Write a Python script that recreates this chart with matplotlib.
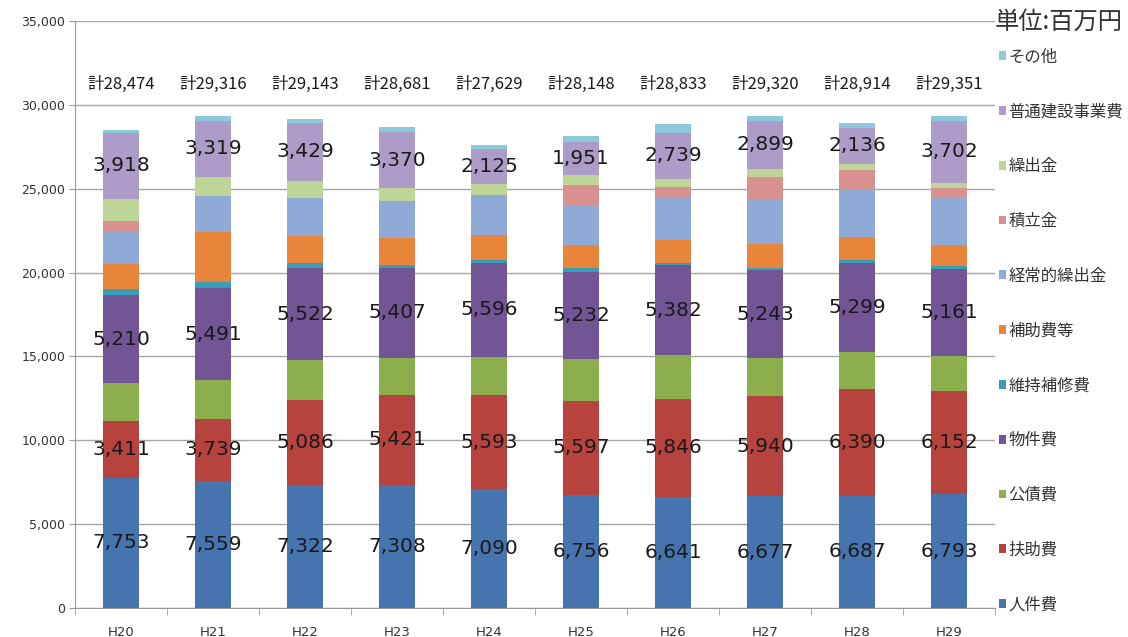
import matplotlib
matplotlib.use("Agg")
import matplotlib.pyplot as plt
from matplotlib.patches import Patch
import numpy as np

plt.rcParams["font.family"] = ["Noto Sans CJK JP", "DejaVu Sans"]

years = ["H20", "H21", "H22", "H23", "H24", "H25", "H26", "H27", "H28", "H29"]
totals = [28474, 29316, 29143, 28681, 27629, 28148, 28833, 29320, 28914, 29351]

# series, bottom to top (unit: million yen)
jinkenhi = [7753, 7559, 7322, 7308, 7090, 6756, 6641, 6677, 6687, 6793]
fujohi = [3411, 3739, 5086, 5421, 5593, 5597, 5846, 5940, 6390, 6152]
kousaihi = [2270, 2270, 2360, 2160, 2300, 2470, 2580, 2290, 2210, 2110]
bukkenhi = [5210, 5491, 5522, 5407, 5596, 5232, 5382, 5243, 5299, 5161]
ijihoshu = [400, 400, 300, 160, 200, 200, 140, 140, 155, 155]
hojohi = [1490, 2940, 1590, 1580, 1450, 1390, 1350, 1430, 1375, 1255]
keijo_kuridashi = [1970, 2190, 2250, 2250, 2370, 2390, 2530, 2650, 2810, 2870]
tsumitate = [600, 0, 0, 0, 0, 1195, 660, 1350, 1195, 560]
kuridashi = [1300, 1135, 1050, 740, 660, 600, 480, 440, 380, 300]
futsu_kensetsu = [3918, 3319, 3429, 3370, 2125, 1951, 2739, 2899, 2136, 3702]
sonota = [152, 273, 234, 285, 245, 367, 485, 261, 277, 293]

series = [
    ("人件費", jinkenhi, "#4674AE", True),
    ("扶助費", fujohi, "#B7433F", True),
    ("公債費", kousaihi, "#8DAE4D", False),
    ("物件費", bukkenhi, "#715595", True),
    ("維持補修費", ijihoshu, "#3A9DB8", False),
    ("補助費等", hojohi, "#E8853A", False),
    ("経常的繰出金", keijo_kuridashi, "#8FAAD6", False),
    ("積立金", tsumitate, "#D99190", False),
    ("繰出金", kuridashi, "#BDD597", False),
    ("普通建設事業費", futsu_kensetsu, "#AE9CC8", True),
    ("その他", sonota, "#8CC9DC", False),
]

fig = plt.figure(figsize=(11.28, 6.37), dpi=100)
ax = fig.add_axes([75 / 1128, 29 / 637, 920 / 1128, 587 / 637])

x = np.arange(len(years))
bottom = np.zeros(len(years))
handles = []
for name, vals, color, labeled in series:
    vals = np.array(vals, dtype=float)
    ax.bar(x, vals, 0.39, bottom=bottom, color=color, zorder=3)
    if labeled:
        for i, v in enumerate(vals):
            ax.text(x[i], bottom[i] + v / 2, f"{int(v):,}", ha="center", va="center",
                    fontsize=14.5, color="#1a1a1a", family="DejaVu Sans", zorder=4)
    bottom += vals
    handles.append(Patch(facecolor=color, label=name))

for i, t in enumerate(totals):
    ax.text(x[i], 31200, f"計{t:,}", ha="center", va="center", fontsize=12,
            color="#1a1a1a", zorder=4)

ax.set_xlim(-0.5, len(years) - 0.5)
ax.set_ylim(0, 35000)
ax.set_yticks(np.arange(0, 35001, 5000))
ax.set_yticklabels([f"{v:,}" for v in range(0, 35001, 5000)], fontsize=9, color="#333333",
                   family="DejaVu Sans")
ax.set_xticks(x)
ax.set_xticklabels(years, fontsize=9.5, color="#333333", family="DejaVu Sans")
ax.set_xticks(np.arange(-0.5, len(years), 1.0), minor=True)
ax.tick_params(axis="x", which="major", length=0, pad=13)
ax.tick_params(axis="x", which="minor", length=5, color="#999999")
ax.tick_params(axis="y", length=4, color="#999999", pad=3)

ax.grid(axis="y", color="#a6a6a6", linewidth=1, zorder=0)
ax.set_axisbelow(True)
for s in ["top", "right"]:
    ax.spines[s].set_visible(False)
for s in ["left", "bottom"]:
    ax.spines[s].set_color("#999999")

fig.text(995 / 1128, 1 - 22 / 637, "単位:百万円", fontsize=17.5, ha="left", va="center",
         color="#333333")

leg = fig.legend(handles=handles[::-1], loc="upper left", bbox_to_anchor=(992 / 1128, 1 - 42 / 637),
                 frameon=False, fontsize=11.8, handlelength=0.45, handleheight=0.45,
                 handletextpad=0.15, labelspacing=2.305, borderaxespad=0)
for t in leg.get_texts():
    t.set_color("#333333")

fig.savefig("out.png", dpi=100)
